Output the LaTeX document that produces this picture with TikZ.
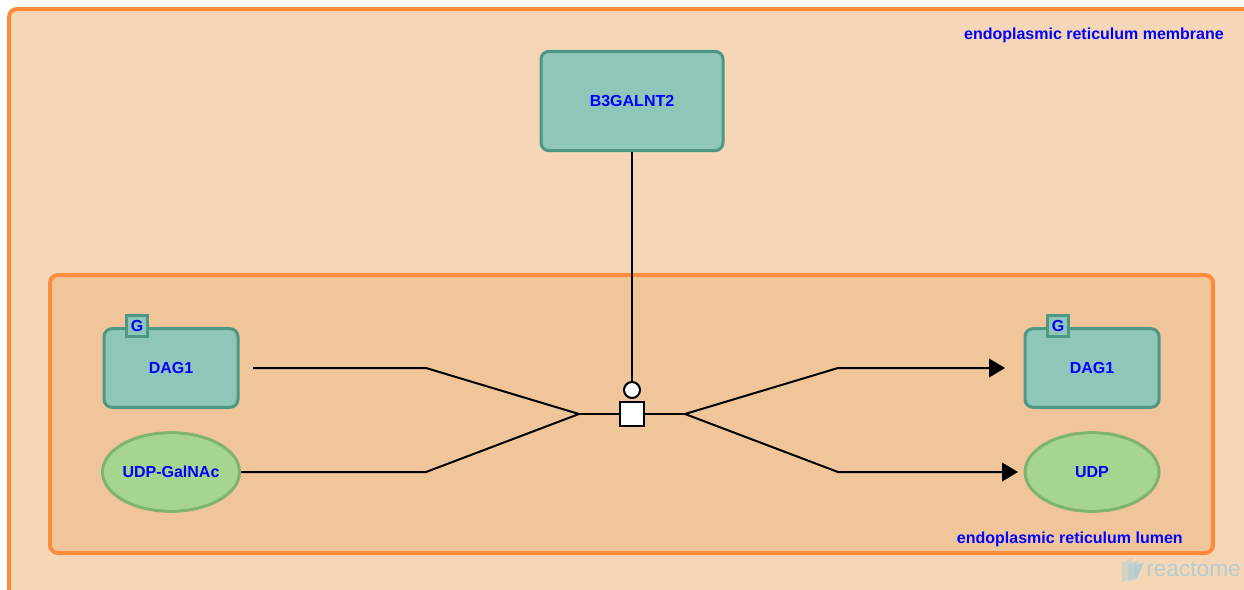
\documentclass[tikz,border=0pt]{standalone}
\usepackage{fontspec}
\setmainfont{Liberation Sans}
\usetikzlibrary{arrows.meta}
\usetikzlibrary{shapes.geometric}

\definecolor{cytoFill}{HTML}{F5D7B8}
\definecolor{compEdge}{HTML}{FF8C3C}
\definecolor{lumenFill}{HTML}{F0C59A}
\definecolor{protFill}{HTML}{8FC6BA}
\definecolor{protEdge}{HTML}{4E9784}
\definecolor{chemFill}{HTML}{A6D68E}
\definecolor{chemEdge}{HTML}{80B46E}
\definecolor{logoGrey}{HTML}{B4CDD2}

\tikzset{
  lbl/.style={font=\bfseries\fontsize{12}{14}\selectfont, text=blue},
  compartment/.style={draw=compEdge, line width=3pt, rounded corners=6pt},
  protein/.style={lbl, draw=protEdge, fill=protFill, line width=2.25pt, rounded corners=6pt, minimum width=100.5pt, minimum height=59pt, inner sep=0pt},
  chemical/.style={lbl, ellipse, draw=chemEdge, fill=chemFill, line width=2.25pt, minimum width=100.5pt, minimum height=59pt, inner sep=0pt},
  gtag/.style={lbl, draw=protEdge, fill=protFill, line width=2.25pt, minimum size=15.75pt, inner sep=0pt},
  rxnline/.style={line width=1.5pt, draw=black},
  product/.style={rxnline, -{Triangle[length=12pt,width=14pt]}},
}

\begin{document}
\begin{tikzpicture}[x=0.75pt,y=0.75pt,yscale=-1,xscale=1]
\useasboundingbox (0,0) rectangle (1244,589);
\clip (0,0) rectangle (1244,589);

%Compartments
\draw [compartment, fill=cytoFill] (9,9) rectangle (1270,610);
\draw [compartment, fill=lumenFill] (50,275) rectangle (1213,553);

% Text Node
\node [lbl, anchor=east, inner sep=0pt] (membrane) at (1224,35) {endoplasmic reticulum membrane};
% Text Node
\node [lbl, anchor=east, inner sep=0pt] (lumen) at (1183,539) {endoplasmic reticulum lumen};

%Entities
\node [protein, minimum width=136.5pt, minimum height=74.5pt] (b3galnt2) at (632,101) {B3GALNT2};
\node [protein] (dagIn) at (171,368) {DAG1};
\node [gtag] (gIn) at (137,326) {G};
\node [chemical] (udpgalnac) at (171,472) {UDP-GalNAc};
\node [protein] (dagOut) at (1092,368) {DAG1};
\node [gtag] (gOut) at (1058,326) {G};
\node [chemical] (udp) at (1092,472) {UDP};

%Reaction
\node [draw, line width=1.5pt, fill=white, minimum size=18pt, inner sep=0pt] (rxn) at (632,414) {};
\node [circle, draw, line width=1.5pt, fill=white, minimum size=12pt, inner sep=0pt] (cat) at (632,390) {};
\coordinate (inJoin) at (579,414);
\coordinate (outJoin) at (685,414);
\coordinate (dagInEnd) at (253,368);
\coordinate (dagOutEnd) at (1005,368);
\coordinate (udpOutEnd) at (1018,472);

%Straight Lines
\draw [rxnline] (dagInEnd) -- (426,368) -- (inJoin);
\draw [rxnline] (udpgalnac.east) -- (426,472) -- (inJoin);
\draw [rxnline] (inJoin) -- (rxn.west);
\draw [rxnline] (rxn.east) -- (outJoin);
\draw [product] (outJoin) -- (838,368) -- (dagOutEnd);
\draw [product] (outJoin) -- (838,472) -- (udpOutEnd);
\draw [rxnline] (b3galnt2.south) -- (cat.north);

%Logo
\fill [logoGrey, opacity=0.5] (1122,563) -- (1132,558) -- (1132,578) -- (1122,582) -- cycle;
\fill [logoGrey, opacity=0.7] (1128,565) -- (1138,560) -- (1138,578) -- (1128,582) -- cycle;
\fill [logoGrey] (1134,566) -- (1144,562) -- (1138,576) -- (1134,578) -- cycle;
\node [text=logoGrey, font=\fontsize{17}{18}\selectfont, anchor=west, inner sep=0pt] (logo) at (1146,569) {reactome};

\end{tikzpicture}
\end{document}
